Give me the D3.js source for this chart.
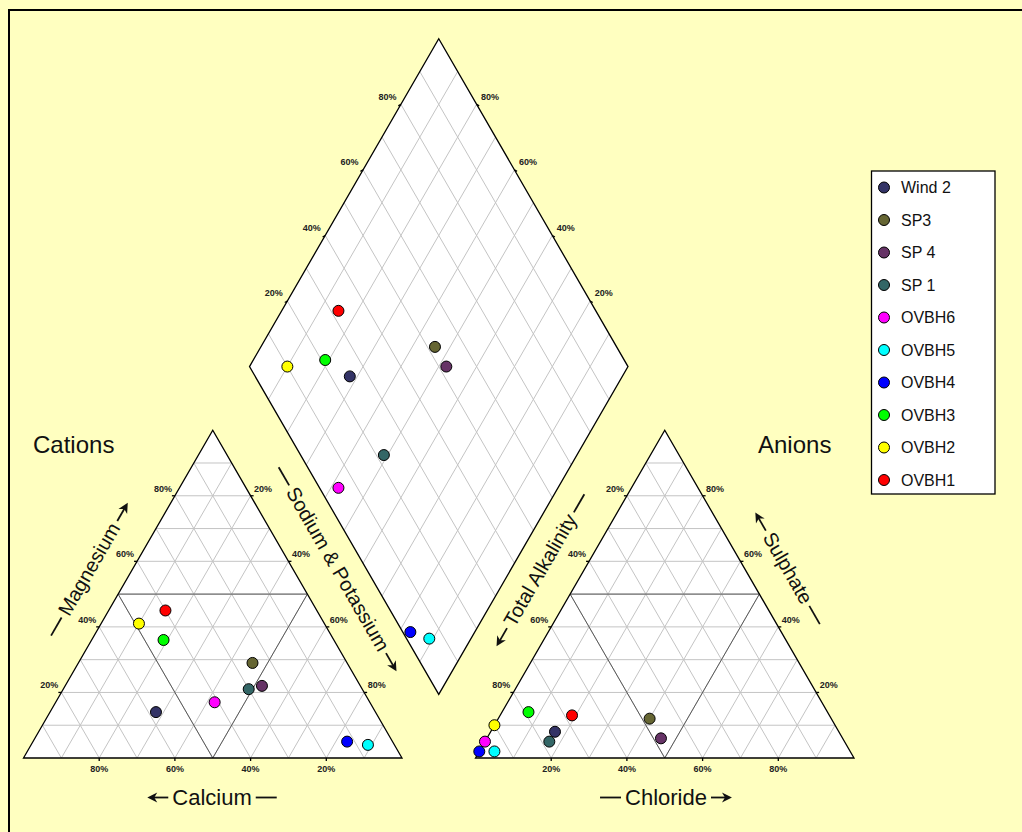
<!DOCTYPE html>
<html><head><meta charset="utf-8">
<script src="https://cdn.jsdelivr.net/npm/d3@7"></script>
<style>body{margin:0;background:#FFFFC0;}svg{display:block;}text{font-family:Arial,"Liberation Sans",sans-serif;}</style>
</head><body>
<script>
// ---- data ----
const samples = ["Wind 2","SP3","SP 4","SP 1","OVBH6","OVBH5","OVBH4","OVBH3","OVBH2","OVBH1"];
const calcium =         [58,25,26,30,41, 7,12,45,49,40];
const magnesium =       [14,29,22,21,17, 4, 5,36,41,45];
const sodiumPotassium = [28,46,52,49,42,89,83,19,10,15];
const alkalinity =      [75,48,48,78,95,94,98,79,90,68];
const sulphate =        [ 8,12, 6, 5, 5, 2, 2,14,10,13];
const chloride =        [17,40,46,17, 0, 4, 0, 7, 0,19];
const tickValues = [20,40,60,80];
const gridValues = [10,20,30,40,50,60,70,80,90];

const W = 1022, H = 832;
const palette = ["#333366","#666633","#663366","#336666","#FF00FF","#00FFFF","#0000FF","#00FF00","#FFFF00","#FF0000"];
const color = d3.scaleOrdinal().domain(samples).range(palette);

const sin60 = Math.sqrt(3)/2;
const side = 378.5, baseY = 758, catX0 = 23.5, gap = 73.5;
const anX0 = catX0 + side + gap;
const pct = d3.scaleLinear().domain([0,100]).range([0, side]);
function tri(x0, a, b){ return [x0 + pct(a) + pct(b)/2, baseY - pct(b)*sin60]; }
const Lx = catX0 + side + gap/2 - side/2;
const Ly = baseY - (gap/2)*Math.sqrt(3) - side*sin60;
function dia(u, v){ return [Lx + (pct(u)+pct(v))/2, Ly + (pct(u)-pct(v))*sin60]; }

const svg = d3.select("body").append("svg").attr("width",W).attr("height",H);
svg.append("rect").attr("width",W).attr("height",H).attr("fill","#FFFFC0");
svg.append("rect").attr("x",9).attr("y",10).attr("width",1200).attr("height",1200)
  .attr("fill","none").attr("stroke","#000").attr("stroke-width",2);

const line = d3.line();
const GRID = "#c4c4c4", DIV = "#5a5a5a";

function seg(g, p, q, stroke, w){
  g.append("path").attr("d", line([p,q])).attr("stroke",stroke).attr("stroke-width",w).attr("fill","none");
}
function label(g, p, dx, dy, txt){
  g.append("text").attr("x",p[0]+dx).attr("y",p[1]+dy).attr("text-anchor","middle")
    .attr("dominant-baseline","central").attr("font-size",9).attr("font-weight","bold")
    .attr("fill","#222").text(txt+"%");
}

function triangle(x0, leftLab, rightLab, bottomLab){
  const g = svg.append("g");
  g.append("path").attr("d", line([tri(x0,0,0),tri(x0,100,0),tri(x0,0,100)])+"Z").attr("fill","#fff");
  gridValues.forEach(k=>{
    seg(g, tri(x0,0,k), tri(x0,100-k,k), GRID, 1);
    seg(g, tri(x0,k,0), tri(x0,k,100-k), GRID, 1);
    seg(g, tri(x0,k,0), tri(x0,0,k), GRID, 1);
  });
  g.append("path").attr("d", line([tri(x0,50,0),tri(x0,0,50),tri(x0,50,50)])+"Z")
    .attr("fill","none").attr("stroke",DIV).attr("stroke-width",1);
  g.append("path").attr("d", line([tri(x0,0,0),tri(x0,100,0),tri(x0,0,100)])+"Z")
    .attr("fill","none").attr("stroke","#000").attr("stroke-width",1.3);
  tickValues.forEach(k=>{
    const pl = tri(x0,0,k); seg(g, pl, [pl[0]-3,pl[1]], "#000", 1.3);
    label(g, pl, -12, -7, leftLab(k));
    const pr = tri(x0,100-k,k); seg(g, pr, [pr[0]+3,pr[1]], "#000", 1.3);
    label(g, pr, 12.5, -7, rightLab(k));
    const pb = tri(x0,k,0); seg(g, pb, [pb[0],pb[1]+3], "#000", 1.3);
    label(g, pb, 0, 10.5, bottomLab(k));
  });
}
// cations: a = Na+K, b = Mg
triangle(catX0, k=>k, k=>100-k, k=>100-k);
// anions: a = Cl, b = SO4
triangle(anX0, k=>100-k, k=>k, k=>k);

// diamond
const dg = svg.append("g");
const dOutline = line([dia(0,0),dia(0,100),dia(100,100),dia(100,0)])+"Z";
dg.append("path").attr("d", dOutline).attr("fill","#fff");
gridValues.forEach(k=>{
  seg(dg, dia(k,0), dia(k,100), GRID, 1);
  seg(dg, dia(0,k), dia(100,k), GRID, 1);
});
dg.append("path").attr("d", dOutline).attr("fill","none").attr("stroke","#000").attr("stroke-width",1.3);
tickValues.forEach(k=>{
  const pl = dia(0,k); seg(dg, pl, [pl[0]-2.6,pl[1]+1.5], "#000", 1.3);
  label(dg, pl, -13.5, -7.5, k);
  const pr = dia(100-k,100); seg(dg, pr, [pr[0]+2.6,pr[1]+1.5], "#000", 1.3);
  label(dg, pr, 13.5, -7.5, k);
});

// titles with arrow / dash decorations
function title(x, y, rot, word, size, arrowSide){
  const g = svg.append("g").attr("transform",`translate(${x},${y}) rotate(${rot})`);
  const t = g.append("text").attr("text-anchor","middle").attr("dominant-baseline","central")
    .attr("font-size",size).attr("fill","#111").text(word);
  const w = t.node().getComputedTextLength();
  const gp = 4, len = 21;
  const L = [-w/2-gp-len, -w/2-gp], R = [w/2+gp, w/2+gp+len];
  const dash = (a,b)=>g.append("path").attr("d", line([[a,0.5],[b,0.5]])).attr("stroke","#111").attr("stroke-width",1.8);
  if(arrowSide === "left"){
    dash(L[0]+6, L[1]);
    g.append("path").attr("d", `M${L[0]},0.5 L${L[0]+10},-4.5 L${L[0]+7},0.5 L${L[0]+10},5.5 Z`).attr("fill","#111");
    dash(R[0], R[1]);
  } else {
    dash(L[0], L[1]);
    dash(R[0], R[1]-6);
    g.append("path").attr("d", `M${R[1]},0.5 L${R[1]-10},-4.5 L${R[1]-7},0.5 L${R[1]-10},5.5 Z`).attr("fill","#111");
  }
}
svg.append("text").attr("x",33).attr("y",453).attr("font-size",24).attr("fill","#111").text("Cations");
svg.append("text").attr("x",758).attr("y",453).attr("font-size",24).attr("fill","#111").text("Anions");
title(212, 797, 0, "Calcium", 22, "left");
title(666, 797, 0, "Chloride", 22, "right");
title(89, 569, -60, "Magnesium", 20, "right");
title(338, 569, 60, "Sodium & Potassium", 20, "right");
title(540, 570, -60, "Total Alkalinity", 20, "left");
title(788, 568, 60, "Sulphate", 20, "left");

// points
const idx = d3.range(samples.length);
function dots(pos){
  svg.append("g").selectAll("circle").data(idx).join("circle")
    .attr("cx", i=>pos(i)[0]).attr("cy", i=>pos(i)[1]).attr("r",5.5)
    .attr("fill", i=>color(samples[i])).attr("stroke","#000").attr("stroke-width",1);
}
dots(i=>tri(catX0, sodiumPotassium[i], magnesium[i]));
dots(i=>tri(anX0, chloride[i], sulphate[i]));
dots(i=>dia(sodiumPotassium[i], sulphate[i]+chloride[i]));

// legend
const lg = svg.append("g");
lg.append("rect").attr("x",871.5).attr("y",171).attr("width",123.5).attr("height",323)
  .attr("fill","#fff").attr("stroke","#000").attr("stroke-width",1.3);
const ly = d3.scalePoint().domain(samples).range([187.5, 480]);
samples.forEach(s=>{
  lg.append("circle").attr("cx",884).attr("cy",ly(s)).attr("r",5.5)
    .attr("fill",color(s)).attr("stroke","#000").attr("stroke-width",1);
  lg.append("text").attr("x",901).attr("y",ly(s)).attr("dominant-baseline","central")
    .attr("font-size",16).attr("fill","#111").text(s);
});
</script>
</body></html>
